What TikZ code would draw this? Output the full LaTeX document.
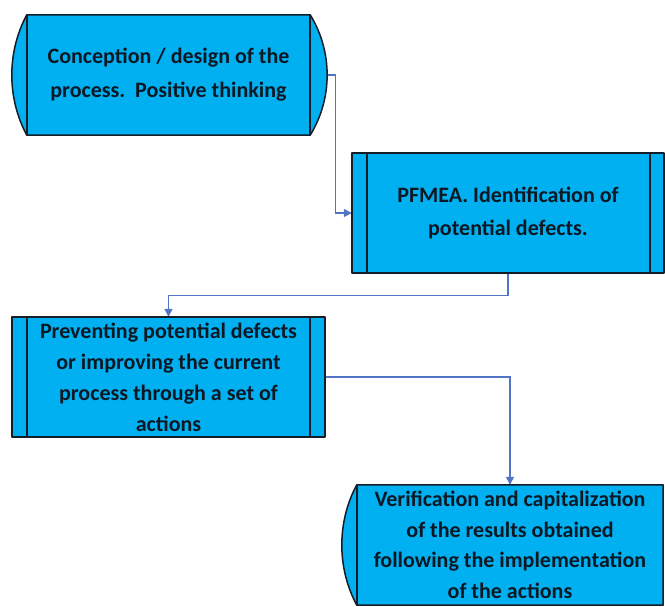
\documentclass[tikz,border=0pt]{standalone}
\usepackage{fontspec}
\setmainfont{Carlito}
\usetikzlibrary{arrows.meta,backgrounds}
\definecolor{boxfill}{RGB}{0,176,240}
\definecolor{boxline}{RGB}{20,30,40}
\definecolor{flow}{RGB}{82,116,196}
\definecolor{ink}{RGB}{12,24,36}
\begin{document}
\begin{tikzpicture}[x=1pt,y=-1pt,
  body/.style={minimum height=120pt,inner sep=0pt,align=center,text=ink},
  stepshape/.style={fill=boxfill,draw=boxline,line width=1.5pt,line join=round},
  divider/.style={draw=boxline,line width=1.5pt},
  flowline/.style={draw=flow,line width=1.3pt,-{Triangle[length=8pt,width=8pt]}}]
\useasboundingbox (0,0) rectangle (665,607);

% step texts (shape bodies)
\node[body,minimum width=283pt,font=\fontsize{22}{34}\selectfont\bfseries] (n1) at (168.5,75)
  {Conception / design of the\\process.\ \ Positive thinking};
\node[body,minimum width=312pt,font=\fontsize{22}{33}\selectfont\bfseries] (n2) at (508,213)
  {PFMEA. Identification of\\potential defects.};
\node[body,minimum width=313pt,font=\fontsize{22}{31}\selectfont\bfseries] (n3) at (168.5,377)
  {Preventing potential defects\\or improving the current\\process through a set of\\actions};
\node[body,minimum width=306pt,font=\fontsize{22}{30.5}\selectfont\bfseries] (n4) at (510,545)
  {Verification and capitalization\\of the results obtained\\following the implementation\\of the actions};

\begin{scope}[on background layer]
  % connectors (drawn first so that the shapes cover their start)
  \draw[flowline] (n1.east) -- ++(25,0) |- (n2.west);
  \draw[flowline] (n2.south) -- ++(0,22) -| (n3.north);
  \draw[flowline] (n3.east) -| (n4.north);

  % 1: rounded terminal shape
  \path[stepshape] (n1.north west) -- (n1.north east)
    .. controls +(22.6,36.8) and +(22.6,-36.8) .. (n1.south east)
    -- (n1.south west)
    .. controls +(-20,-37) and +(-20,37) .. cycle;
  \draw[divider] (n1.north west) -- (n1.south west);
  \draw[divider] (n1.north east) -- (n1.south east);

  % 2: predefined process
  \path[stepshape] (n2.north west) rectangle (n2.south east);
  \draw[divider] ([xshift=15pt]n2.north west) -- ([xshift=15pt]n2.south west);
  \draw[divider] ([xshift=-14pt]n2.north east) -- ([xshift=-14pt]n2.south east);

  % 3: predefined process
  \path[stepshape] (n3.north west) rectangle (n3.south east);
  \draw[divider] ([xshift=15pt]n3.north west) -- ([xshift=15pt]n3.south west);
  \draw[divider] ([xshift=-15pt]n3.north east) -- ([xshift=-15pt]n3.south east);

  % 4: shape with a rounded left side
  \path[stepshape] (n4.north west) -- (n4.north east) -- (n4.south east)
    -- (n4.south west)
    .. controls +(-20,-37) and +(-20,37) .. cycle;
  \draw[divider] (n4.north west) -- (n4.south west);
\end{scope}
\end{tikzpicture}
\end{document}
